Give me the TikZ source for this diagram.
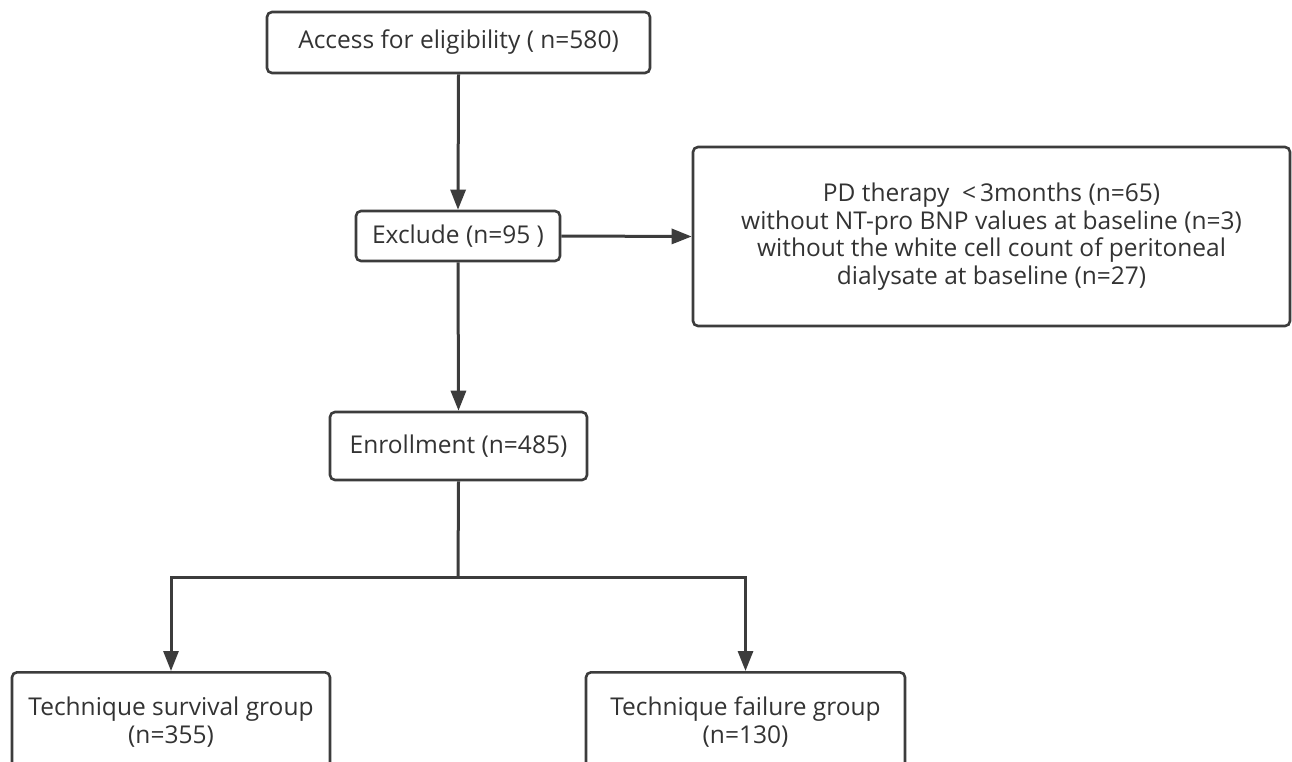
\documentclass[tikz,border=0pt]{standalone}
\usepackage{fontspec}
\setmainfont{Open Sans}
\usetikzlibrary{arrows.meta}
\definecolor{linegray}{HTML}{3C3C3C}
\definecolor{textgray}{HTML}{333333}
\begin{document}
\begin{tikzpicture}[x=1pt,y=-1pt,
  box/.style={draw=linegray, line width=2.6pt, rounded corners=5pt, fill=white,
    text=textgray, font=\fontsize{24.5}{27.5}\selectfont, align=center, inner sep=0pt},
  conn/.style={draw=linegray, line width=3pt},
  arr/.style={conn, -{Triangle[length=20pt,width=15pt]}}]
\useasboundingbox (0,0) rectangle (1292,761);
\fill[white] (0,0) rectangle (1292,761);
\clip (0,0) rectangle (1292,761);

\node[box, minimum width=383pt, minimum height=61pt] (top) at (458.5,42.5) {Access for eligibility ( n=580)};
\node[box, minimum width=204pt, minimum height=50pt] (excl) at (458,236) {Exclude (n=95 )};
\node[box, minimum width=597pt, minimum height=179pt] (reason) at (991.5,236.5)
  {PD therapy \ <\,3months (n=65)\\without NT-pro BNP values at baseline (n=3)\\without the white cell count of peritoneal\\dialysate at baseline (n=27)};
\node[box, minimum width=257pt, minimum height=68pt] (enr) at (458.5,446) {Enrollment (n=485)};
\node[box, anchor=north, minimum width=318pt, minimum height=100pt] (surv) at (171,671) {Technique survival group\\(n=355)};
\node[box, anchor=north, minimum width=319pt, minimum height=100pt] (fail) at (745.5,671) {Technique failure group\\(n=130)};

\coordinate (split) at (458,577);

\draw[arr] (top.south) -- (excl.north);
\draw[arr] (excl.east) -- (reason.west);
\draw[arr] (excl.south) -- (enr.north);
\draw[conn] (enr.south) -- (split);
\draw[arr] (split) -| (surv.north);
\draw[arr] (split) -| (fail.north);
\end{tikzpicture}
\end{document}
